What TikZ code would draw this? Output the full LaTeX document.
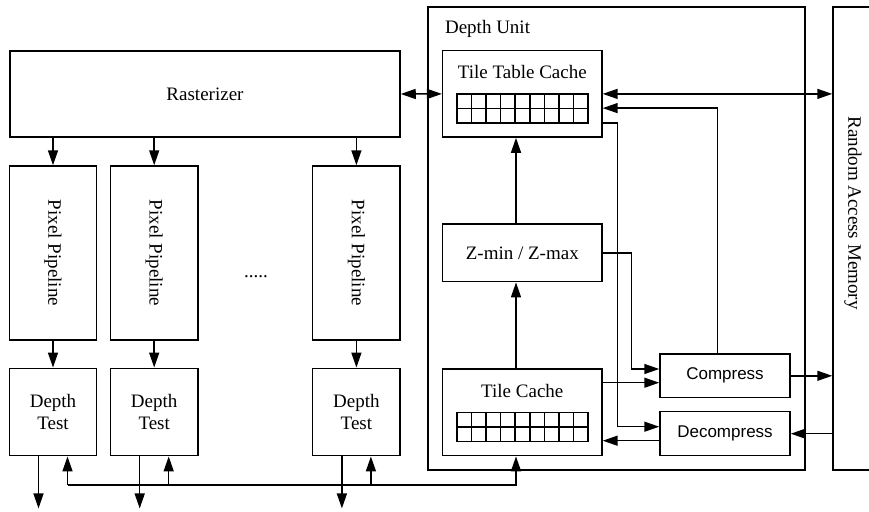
\documentclass[tikz,border=0pt]{standalone}
\usepackage{fontspec}
\setmainfont{Liberation Serif}
\newfontfamily\compfont{Liberation Sans}
\usetikzlibrary{calc}
\usetikzlibrary{arrows.meta}
\tikzset{blk/.style={draw, inner sep=0}}
\newcommand{\tilegrid}[1]{%
  \draw ($(#1)+(-65.3,0)$) rectangle ($(#1)+(65.7,-29)$);
  \draw ($(#1)+(-65.3,-14.5)$) -- ($(#1)+(65.7,-14.5)$);
  \foreach \i in {1,...,8} {
    \draw ($(#1)+(-65.3+\i*14.556,0)$) --++(0,-29);
  }
}

\begin{document}
\begin{tikzpicture}[x=1pt, y=1pt, line width=1.5pt, >={Triangle[length=15pt,width=10pt]},
  font=\fontsize{19}{22}\selectfont]
\useasboundingbox (0,0) rectangle (869,-511);

% depth unit and memory
\node[blk, minimum width=377, minimum height=463] (du) at (616.5,-238.5) {};
\node[anchor=west] (dutxt) at (441,-29) {Depth Unit};
\node[blk, minimum width=80, minimum height=463] (ram) at (873,-238.5) {};
\node[rotate=-90] (ramtxt) at (853,-213) {Random Access Memory};

% rasterizer and the pipelines
\node[blk, minimum width=390, minimum height=86] (rast) at (205,-94) {Rasterizer};
\foreach \n/\x in {1/53,2/154.2,3/356.4} {
  \node[blk, minimum width=87.4, minimum height=174] (pp\n) at (\x,-253) {};
  \node[rotate=-90] (pptxt\n) at (pp\n) {Pixel Pipeline};
  \node[blk, minimum width=87.4, minimum height=87.4, align=center] (dt\n) at (\x,-412) {Depth\\Test};
  \draw[->] (rast.south -| pp\n.north) -- (pp\n.north);
  \draw[->] (pp\n.south) -- (dt\n.north);
  \coordinate (out\n) at ($(dt\n.south)+(-14.5,-52)$);
  \draw[->] ($(dt\n.south)+(-14.5,0)$) -- (out\n);
  \coordinate (bus\n) at ($(dt\n.south)+(14.5,-28.5)$);
  \draw[->] (bus\n) -- (bus\n |- dt\n.south);
}
\node (dots) at (256,-277) {.....};

% inside the depth unit
\node[blk, minimum width=159.3, minimum height=86.3] (ttc) at (522.3,-93.9) {};
\node (ttctxt) at (522.3,-72) {Tile Table Cache};
\tilegrid{ttc.center}
\node[blk, minimum width=159.3, minimum height=57.7] (zmm) at (522.3,-252.8) {Z-min / Z-max};
\node[blk, minimum width=159.3, minimum height=86.7] (tc) at (522.3,-412.3) {};
\node (tctxt) at (522.3,-391) {Tile Cache};
\tilegrid{tc.center}
\node[blk, minimum width=130, minimum height=43.7, font=\compfont\fontsize{17}{20}\selectfont] (comp) at (725,-375.8) {Compress};
\node[blk, minimum width=130, minimum height=44, font=\compfont\fontsize{17}{20}\selectfont] (decomp) at (725,-433.7) {Decompress};

% connections
\draw[<->] (rast.east) -- (ttc.west);
\draw[<->] (ttc.east) -- (ttc.east -| ram.west);
\draw[->] ($(tc.north)+(-6.3,0)$) -- ($(zmm.south)+(-6.3,0)$);
\draw[->] ($(zmm.north)+(-6.3,0)$) -- ($(ttc.south)+(-6.3,0)$);
\draw[->] ($(comp.north)+(-7.3,0)$) |- ($(ttc.east)+(0,-14.2)$);
\draw[->] ($(ttc.east)+(0,-29.2)$) --++(14.7,0) |- ($(decomp.west)+(0,7)$);
\draw[->] (zmm.east) --++(29,0) |- ($(comp.west)+(0,6.8)$);
\coordinate (tcout) at ($(tc.east)+(0,29.6)$);
\draw[->] (tcout) -- (tcout -| comp.west);
\coordinate (dcout) at ($(decomp.west)+(0,-7)$);
\draw[->] (dcout) -- (dcout -| tc.east);
\draw[->] (comp.east) -- (comp.east -| ram.west);
\draw[->] (decomp.east -| ram.west) -- (decomp.east);
\coordinate (tcin) at ($(tc.south)+(-6.3,0)$);
\draw[->] (bus1) -| (tcin);
\end{tikzpicture}
\end{document}
